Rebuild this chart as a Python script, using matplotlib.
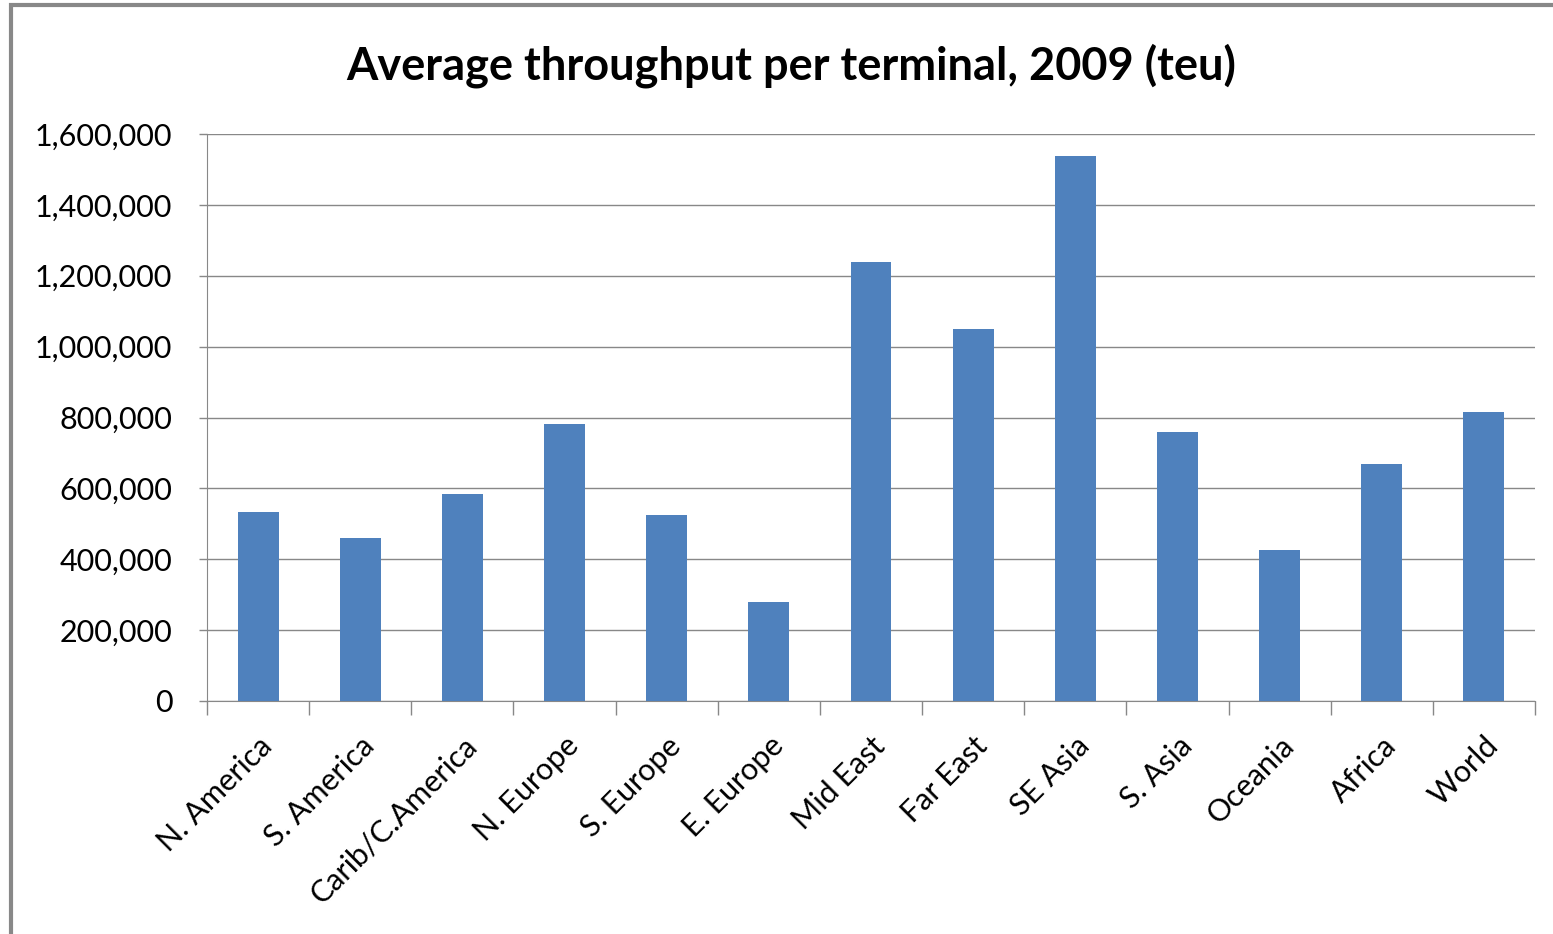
import matplotlib
matplotlib.use('Agg')
import matplotlib.pyplot as plt
from matplotlib.patches import Rectangle
from matplotlib.ticker import FuncFormatter

# regions and average throughput per terminal (teu)
regions = ['N. America', 'S. America', 'Carib/C.America', 'N. Europe', 'S. Europe',
           'E. Europe', 'Mid East', 'Far East', 'SE Asia', 'S. Asia', 'Oceania',
           'Africa', 'World']
throughput = [533000, 460000, 584000, 782000, 525000, 279000, 1239000,
              1050000, 1538000, 759000, 426000, 669000, 816000]

plt.rcParams['font.family'] = ['Lato', 'DejaVu Sans']

fig = plt.figure(figsize=(15.53, 9.34), dpi=100)
ax = fig.add_axes([207 / 1553, 1 - 701 / 934, (1535 - 207) / 1553, (701 - 134) / 934])

# gray outer frame (only top and left visible in the original)
fig.patches.append(Rectangle((11 / 1553, -0.1), 1.2, 1 - 5 / 934 + 0.1,
                             transform=fig.transFigure, fill=False,
                             ec='#888888', lw=3))

x = list(range(len(regions)))
ax.bar(x, throughput, width=0.4, color='#4F81BD', zorder=3)

ax.set_xlim(-0.5, len(regions) - 0.5)
ax.set_ylim(0, 1600000)
ax.set_yticks(range(0, 1600001, 200000))
ax.yaxis.set_major_formatter(FuncFormatter(lambda v, p: f'{int(v):,}'))
ax.grid(axis='y', color='#888888', lw=1, zorder=0)

ax.set_xticks([i - 0.5 for i in range(len(regions) + 1)], minor=False)
ax.set_xticklabels([])
ax.set_xticks(x, minor=True)
ax.set_xticklabels(regions, minor=True, rotation=45, ha='right',
                   rotation_mode='anchor', fontsize=22)
ax.tick_params(axis='x', which='minor', length=0, pad=22)
ax.tick_params(axis='x', which='major', length=10, color='#888888', width=1)
ax.tick_params(axis='y', length=6, color='#888888', width=1, labelsize=22, pad=19)

for s in ['top', 'right']:
    ax.spines[s].set_visible(False)
for s in ['left', 'bottom']:
    ax.spines[s].set_color('#888888')

fig.text(791 / 1553, 1 - 66 / 934, 'Average throughput per terminal, 2009 (teu)',
         ha='center', va='center', fontsize=32.5, fontweight='bold')

fig.savefig('out.png', dpi=100)
